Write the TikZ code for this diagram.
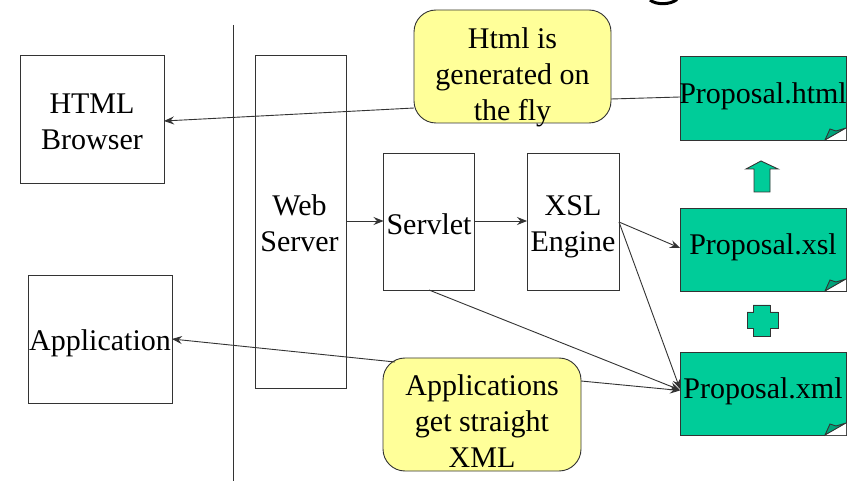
\documentclass[tikz,border=0pt]{standalone}
\usepackage{fontspec}
\setmainfont{Liberation Serif}
\usetikzlibrary{arrows.meta,calc}
\definecolor{docgreen}{HTML}{00CC99}
\definecolor{foldgreen}{HTML}{00A37A}
\definecolor{noteyellow}{HTML}{FFFF99}
\definecolor{inkline}{HTML}{333333}
\newcommand{\boxtext}[3]{\raisebox{\dimexpr#2pt-7.3pt\relax}[0pt][0pt]{\makebox[0pt]{\hspace*{#1pt}\begin{tabular}{@{}c@{}}#3\end{tabular}}}}
\newcommand{\docfold}[1]{%
  \fill[white] ($(#1.south east)+(-21,0)$) -- (#1.south east) -- ($(#1.south east)+(0,-12)$) -- cycle;
  \draw[edge,fill=foldgreen] ($(#1.south east)+(-21,0)$) -- ($(#1.south east)+(-16,-11)$) -- ($(#1.south east)+(-10,-9)$) -- ($(#1.south east)+(0,-12)$) -- cycle;
}
\tikzset{
  edge/.style={draw=inkline,line width=0.9pt},
  conn/.style={edge,-{Stealth[length=10pt,width=8pt,inset=3.5pt]}},
  plain/.style={edge},
  boxnode/.style={draw=inkline,line width=0.9pt,fill=white,inner sep=0pt,outer sep=0pt,
    font=\fontsize{30}{36}\selectfont},
  note/.style={boxnode,fill=noteyellow,rounded corners=22pt},
  doc/.style={boxnode,fill=docgreen},
  sym/.style={edge,fill=docgreen}
}
\begin{document}
\begin{tikzpicture}[x=1pt,y=-1pt]
\useasboundingbox (0,0) rectangle (847,481);
\fill[white] (0,0) rectangle (847,481);
% sliver of the cropped title
\draw[black,line width=3pt] (650,0) .. controls (656,5) and (670,5) .. (677,-0.5);
% divider
\coordinate (divtop) at (233,25);
\coordinate (divbot) at (233,481);
\draw[edge] (divtop) -- (divbot);
% boxes
\node[boxnode,minimum width=144pt,minimum height=128pt] (browser) at (92,119) {\boxtext{0}{-3.8}{HTML\\Browser}};
\node[boxnode,minimum width=144pt,minimum height=128pt] (app) at (100,339) {\boxtext{0}{-2.8}{Application}};
\node[boxnode,minimum width=91pt,minimum height=333pt] (web) at (300.5,221.5) {\boxtext{-2}{-3.3}{Web\\Server}};
\node[boxnode,minimum width=91pt,minimum height=137pt] (servlet) at (429,221.5) {\boxtext{0}{-4.3}{Servlet}};
\node[boxnode,minimum width=92pt,minimum height=137pt] (xsl) at (573,221.5) {\boxtext{0}{-3.3}{XSL\\Engine}};
% documents
\node[doc,minimum width=166pt,minimum height=84pt] (phtml) at (763,98) {\boxtext{0}{3.2}{Proposal.html}};
\node[doc,minimum width=166pt,minimum height=83pt] (pxsl) at (763,249.5) {\boxtext{0}{3.7}{Proposal.xsl}};
\node[doc,minimum width=166pt,minimum height=83pt] (pxml) at (763,393.5) {\boxtext{0}{3.7}{Proposal.xml}};
\docfold{phtml}
\docfold{pxsl}
\docfold{pxml}
% symbols
\draw[sym] (761,161) -- (778,169) -- (770,169) -- (770,192) -- (754,192) -- (754,169) -- (746,169) -- cycle;
\draw[sym] (753,305) -- (770,305) -- (770,312) -- (778,312) -- (778,328) -- (770,328) -- (770,336) -- (753,336) -- (753,328) -- (747,328) -- (747,312) -- (753,312) -- cycle;
% notes
\node[note,minimum width=197pt,minimum height=113pt] (notehtml) at (512.5,66.5) {\boxtext{0}{-9.3}{Html is\\generated on\\the fly}};
\node[note,minimum width=198pt,minimum height=113pt] (noteapp) at (482,414.5) {\boxtext{0}{-8.3}{Applications\\get straight\\XML}};
% connectors
\draw[plain] ($(phtml.west)+(0,-1)$) -- ($(notehtml.east)+(0,32.5)$);
\draw[conn] ($(notehtml.west)+(0,41.5)$) -- ($(browser.east)+(0,2)$);
\draw[conn] ($(web.east)+(0,-0.5)$) -- ($(servlet.west)+(0,-0.5)$);
\draw[conn] ($(servlet.east)+(0,-0.5)$) -- ($(xsl.west)+(0,-0.5)$);
\draw[conn] ($(xsl.east)+(0,0.5)$) -- ($(pxsl.west)+(0,-1.5)$);
\draw[conn] ($(xsl.east)+(0,0.5)$) -- ($(pxml.west)+(0,-4.5)$);
\draw[conn] (servlet.south) -- ($(pxml.west)+(0,-3.5)$);
\draw[conn] ($(noteapp.east)+(0,-33.5)$) -- ($(pxml.west)+(0,-3)$);
\draw[conn] ($(noteapp.north west)+(12,4)$) -- (app.east);
\end{tikzpicture}
\end{document}
